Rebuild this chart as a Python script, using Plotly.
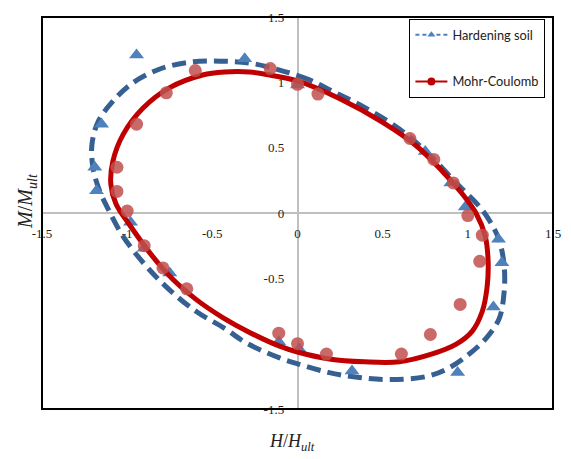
import plotly.graph_objects as go

# Normalised load-path data: H/H_ult (x) against M/M_ult (y)

# Hardening soil results (triangle markers)
hs_x = [-0.945, -0.31, 0.0, -1.15, -1.19, -1.18, -0.98, -0.90, -0.75, -0.11, 0.01, 0.32, 0.94,
        1.15, 1.20, 1.18, 0.985, 0.90, 0.75]
hs_y = [1.21, 1.18, 0.98, 0.68, 0.35, 0.17, -0.07, -0.27, -0.46, -0.985, -1.04, -1.21, -1.22,
        -0.72, -0.38, -0.20, 0.045, 0.23, 0.47]

# Mohr-Coulomb results (circle markers)
mc_x = [-0.60, -0.77, -0.945, -1.06, -1.06, -1.0, -0.90, -0.79, -0.65, -0.11, 0.0, 0.17, 0.61,
        0.78, 0.955, 1.07, 1.085, 1.0, 0.915, 0.80, 0.66, 0.12, 0.0, -0.16]
mc_y = [1.09, 0.92, 0.68, 0.35, 0.165, 0.015, -0.25, -0.42, -0.58, -0.92, -1.0, -1.08, -1.08,
        -0.93, -0.70, -0.37, -0.17, -0.02, 0.23, 0.41, 0.57, 0.91, 0.985, 1.105]

# Failure envelope traced for the Hardening soil model
hs_env_x = [0.187, 0.070, -0.105, -0.281, -0.457, -0.633, -0.808, -0.967, -1.090, -1.172,
            -1.207, -1.201, -1.166, -1.113, -1.025, -0.896, -0.750, -0.592, -0.428, -0.299,
            -0.105, 0.0, 0.187, 0.363, 0.539, 0.756, 0.891, 1.008, 1.107, 1.184, 1.213, 1.213,
            1.184, 1.137, 1.078, 1.008, 0.932, 0.773, 0.598, 0.393, 0.187]
hs_env_y = [0.944, 1.019, 1.094, 1.147, 1.162, 1.154, 1.102, 0.996, 0.846, 0.695,
            0.523, 0.350, 0.184, 0.034, -0.177, -0.395, -0.590, -0.756, -0.883, -0.996,
            -1.109, -1.154, -1.222, -1.259, -1.274, -1.252, -1.184, -1.079, -0.959, -0.808,
            -0.605, -0.402, -0.207, -0.079, 0.034, 0.132, 0.229, 0.447, 0.643, 0.808, 0.944]

# Failure envelope traced for the Mohr-Coulomb model
mc_env_x = [0.0, -0.164, -0.281, -0.428, -0.557, -0.750, -0.908, -1.025, -1.084, -1.096,
            -1.066, -0.984, -0.867, -0.738, -0.592, -0.439, -0.281, -0.105, 0.0, 0.187, 0.393,
            0.598, 0.791, 0.932, 1.025, 1.084, 1.113, 1.119, 1.102, 1.049, 0.967, 0.850, 0.697,
            0.498, 0.246, 0.0]
mc_env_y = [1.011, 1.056, 1.079, 1.079, 1.056, 0.959, 0.801, 0.598, 0.395, 0.222,
            0.071, -0.094, -0.305, -0.500, -0.665, -0.800, -0.914, -1.019, -1.064, -1.117,
            -1.139, -1.139, -1.079, -1.004, -0.906, -0.756, -0.568, -0.365, -0.177, -0.004,
            0.147, 0.320, 0.515, 0.695, 0.876, 1.011]

tick_vals = [-1.5, -1, -0.5, 0, 0.5, 1, 1.5]
tick_text = ["-1.5", "-1", "-0.5", "0", "0.5", "1", "1.5"]

HS_LINE = "#376092"
HS_MARK = "#4F81BD"
MC_LINE = "#C00000"
MC_MARK = "rgba(192,80,77,0.85)"

fig = go.Figure()

fig.add_trace(go.Scatter(x=hs_env_x, y=hs_env_y, mode="lines", showlegend=False,
                         line=dict(color=HS_LINE, width=5, dash="14px,7px", shape="spline",
                                   smoothing=1.0), hoverinfo="skip"))
fig.add_trace(go.Scatter(x=hs_x, y=hs_y, mode="markers", showlegend=False,
                         marker=dict(symbol="triangle-up", size=13, color=HS_MARK)))
fig.add_trace(go.Scatter(x=mc_env_x, y=mc_env_y, mode="lines", showlegend=False,
                         line=dict(color=MC_LINE, width=5, shape="spline", smoothing=1.0),
                         hoverinfo="skip"))
fig.add_trace(go.Scatter(x=mc_x, y=mc_y, mode="markers", showlegend=False,
                         marker=dict(symbol="circle", size=13, color=MC_MARK)))

# Legend entries (line + marker style of each model)
fig.add_trace(go.Scatter(x=[None], y=[None], mode="lines+markers", name="Hardening soil",
                         legendgroup="hs",
                         line=dict(color=HS_MARK, width=2, dash="4px,3px"),
                         marker=dict(symbol="triangle-up", size=7, color=HS_MARK)))
fig.add_trace(go.Scatter(x=[None], y=[None], mode="lines+markers", name="Mohr-Coulomb",
                         legendgroup="mc",
                         line=dict(color=MC_LINE, width=2),
                         marker=dict(symbol="circle", size=8, color=MC_LINE)))

axis_common = dict(
    range=[-1.5, 1.5], tickvals=tick_vals, ticktext=tick_text,
    showgrid=False, zeroline=False, showline=True, linecolor="#BFBFBF", linewidth=1.5,
    ticks="", anchor="free", position=0.5, layer="below traces",
    tickfont=dict(family="Liberation Serif", size=13, color="#222222"),
)

fig.update_layout(
    width=571, height=459,
    margin=dict(l=42, r=17, t=10, b=50),
    paper_bgcolor="white", plot_bgcolor="white",
    xaxis=dict(**axis_common, ticklabelstandoff=9),
    yaxis=dict(**axis_common, ticklabelstandoff=10),
    legend=dict(
        x=0.719, y=0.995, xanchor="left", yanchor="top",
        bgcolor="white", bordercolor="#000000", borderwidth=1,
        font=dict(family="Lato", size=12.8, color="#222222"),
        traceorder="grouped", tracegroupgap=27,
        itemwidth=32,
    ),
    shapes=[dict(type="rect", xref="paper", yref="paper", x0=0, x1=1, y0=0, y1=1,
                 line=dict(color="#000000", width=2), layer="above")],
    annotations=[
        dict(text="<i>H</i>/<i>H</i><sub><i>ult</i></sub>", xref="paper", yref="paper",
             x=0.49, y=-0.085, xanchor="center", yanchor="middle", showarrow=False,
             font=dict(family="Liberation Serif", size=18, color="#222222")),
        dict(text="<i>M</i>/<i>M</i><sub><i>ult</i></sub>", xref="paper", yref="paper",
             x=-0.03, y=0.53, xanchor="center", yanchor="middle", showarrow=False,
             textangle=-90,
             font=dict(family="Liberation Serif", size=20, color="#222222")),
    ],
)

fig.write_html("out.html")
